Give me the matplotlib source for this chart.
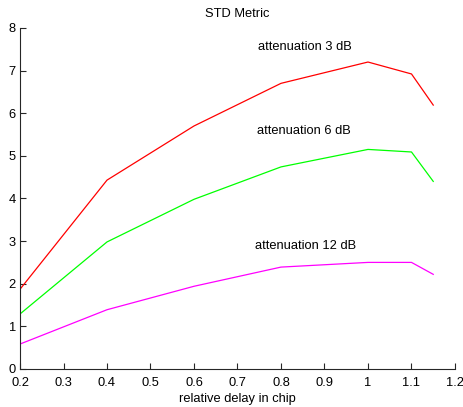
import numpy as np
import matplotlib
matplotlib.use('Agg')
import matplotlib.pyplot as plt

plt.rcParams['font.family'] = ['Liberation Sans', 'DejaVu Sans']

delay = [0.2, 0.4, 0.6, 0.8, 1.0, 1.1, 1.15]
att3 = [1.87, 4.43, 5.70, 6.70, 7.20, 6.92, 6.19]
att6 = [1.29, 2.98, 3.98, 4.74, 5.15, 5.09, 4.40]
att12 = [0.585, 1.39, 1.94, 2.39, 2.50, 2.50, 2.22]

labels = ['attenuation 3 dB', 'attenuation 6 dB', 'attenuation 12 dB']
label_pos = [(0.747, 7.55), (0.745, 5.58), (0.741, 2.89)]

fig = plt.figure(figsize=(4.63, 4.07), dpi=100)
ax = fig.add_axes([0.0432, 0.0934, 0.9395, 0.838])

ax.plot(delay, att3, color='#ff0000', linewidth=0.9)
ax.plot(delay, att6, color='#00ff00', linewidth=0.9)
ax.plot(delay, att12, color='#ff00ff', linewidth=0.9)

for txt, (tx, ty) in zip(labels, label_pos):
	ax.text(tx, ty, txt, fontsize=9.3, va='center', ha='left')

ax.set_xlim(0.2, 1.2)
ax.set_ylim(0, 8)
ax.set_xticks(np.round(np.arange(0.2, 1.21, 0.1), 1))
ax.set_xticklabels(['0.2', '0.3', '0.4', '0.5', '0.6', '0.7', '0.8', '0.9', '1', '1.1', '1.2'])
ax.set_yticks(range(0, 9))
ax.spines['top'].set_visible(False)
ax.spines['right'].set_visible(False)
for s in ['left', 'bottom']:
	ax.spines[s].set_color('#262626')
	ax.spines[s].set_linewidth(0.8)
ax.tick_params(axis='both', direction='in', length=4, width=0.8, color='#262626', labelsize=9.3)
ax.tick_params(axis='x', pad=6)
ax.tick_params(axis='y', pad=3)
ax.set_title('STD Metric', fontsize=9.3, pad=8)
ax.set_xlabel('relative delay in chip', fontsize=9.3, labelpad=3)

plt.savefig('out.png', dpi=100)
